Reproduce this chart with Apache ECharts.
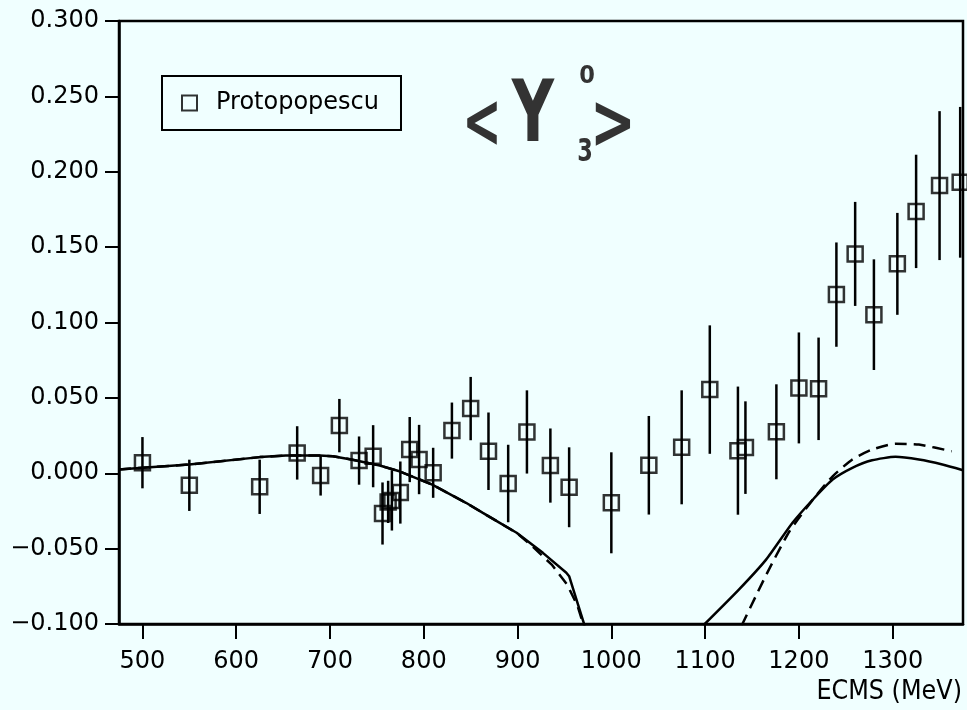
<!DOCTYPE html>
<html>
<head>
<meta charset="utf-8">
<script src="https://cdn.jsdelivr.net/npm/echarts@6/dist/echarts.min.js"></script>
<style>
  html, body { margin: 0; padding: 0; background: #f0ffff; }
  #chart { width: 967px; height: 710px; }
</style>
</head>
<body>
<div id="chart"></div>
<script>
// Measured moments <Y_3^0> versus centre-of-mass energy (MeV)
const ecms = [500, 550, 625, 665, 690, 710, 731, 746, 756, 762, 766, 775, 785, 795, 810, 830, 850, 869, 890, 910, 935, 955,
  1000, 1040, 1075, 1105, 1135, 1143, 1176, 1200, 1221, 1240, 1260, 1280, 1305, 1325, 1350, 1372];
const moment = [0.007, -0.008, -0.009, 0.0135, -0.0015, 0.0316, 0.0084, 0.0113, -0.0267, -0.019, -0.018, -0.0128, 0.0157, 0.0091,
  0.0003, 0.0283, 0.0429, 0.0146, -0.0068, 0.0274, 0.0051, -0.0093, -0.0196, 0.0053, 0.0172, 0.0555, 0.015, 0.017, 0.0275,
  0.0566, 0.056, 0.1185, 0.1455, 0.1052, 0.1389, 0.1737, 0.1908, 0.193];
const momentErr = [0.017, 0.017, 0.018, 0.0177, 0.0133, 0.0177, 0.016, 0.0206, 0.0206, 0.014, 0.02, 0.0206, 0.0216, 0.023,
  0.0166, 0.0186, 0.021, 0.0257, 0.0257, 0.0276, 0.0246, 0.0265, 0.0335, 0.0327, 0.0378, 0.0426, 0.0425, 0.0307, 0.0315,
  0.0368, 0.034, 0.0346, 0.0345, 0.0367, 0.0338, 0.0376, 0.0494, 0.05];

// Model curves (solid and dashed), lower and upper branches
const solidLowX = [475, 508, 550, 625, 653, 689, 703, 724, 753, 774, 809, 845, 863, 881, 899, 927, 952, 955, 970, 972];
const solidLowY = [0.0025, 0.004, 0.0058, 0.0107, 0.0117, 0.0117, 0.0113, 0.009, 0.0051, 0.0013, -0.0075, -0.0196, -0.0263,
  -0.0329, -0.0395, -0.0528, -0.066, -0.0683, -0.0981, -0.102];
const dashLowX = [475, 508, 550, 625, 653, 689, 703, 724, 753, 774, 809, 845, 863, 881, 899, 915, 937, 953, 964, 971];
const dashLowY = [0.0025, 0.004, 0.0058, 0.0107, 0.0117, 0.0117, 0.0113, 0.009, 0.0051, 0.0013, -0.0075, -0.0196, -0.0263,
  -0.0329, -0.0395, -0.048, -0.061, -0.074, -0.088, -0.102];
const solidHighX = [1098, 1136, 1165, 1193, 1215, 1236, 1257, 1278, 1303, 1328, 1353, 1375];
const solidHighY = [-0.101, -0.0772, -0.0573, -0.033, -0.0174, -0.0042, 0.0036, 0.0086, 0.0109, 0.0091, 0.0058, 0.002];
const dashHighX = [1139, 1154, 1168, 1190, 1215, 1236, 1257, 1278, 1303, 1328, 1363];
const dashHighY = [-0.101, -0.0816, -0.0639, -0.0385, -0.0174, -0.002, 0.0091, 0.0157, 0.0195, 0.019, 0.0146];

const xTicks = [500, 600, 700, 800, 900, 1000, 1100, 1200, 1300];
const seriesName = 'Protopopescu';

const FONT = 'DejaVu Sans';
const INK = '#000';
const zip = (xs, ys) => xs.map((x, i) => [x, ys[i]]);

const chart = echarts.init(document.getElementById('chart'), null, { renderer: 'canvas' });

const curveStyle = (dashed) => ({
  color: INK,
  width: 2.5,
  type: dashed ? [12, 7] : 'solid'
});

const option = {
  backgroundColor: '#f0ffff',
  animation: false,
  grid: {
    left: 119, right: 4, top: 21, bottom: 86,
    show: true, borderColor: INK, borderWidth: 2.5, backgroundColor: 'transparent'
  },
  legend: {
    data: [seriesName],
    left: 162, top: 76,
    orient: 'horizontal',
    icon: 'rect',
    itemWidth: 15, itemHeight: 15,
    padding: [15, 22, 15, 19],
    borderColor: INK, borderWidth: 2, borderRadius: 0,
    backgroundColor: 'transparent',
    itemStyle: { color: 'transparent', borderColor: INK, borderWidth: 2 },
    textStyle: { fontFamily: FONT, fontSize: 24, color: INK, padding: [0, 0, 0, 14] },
    selectedMode: false
  },
  xAxis: {
    type: 'value', min: 475, max: 1375,
    axisLine: { show: true, onZero: false, lineStyle: { color: INK, width: 2.5 } },
    axisTick: { show: true, inside: false, length: 15, customValues: xTicks, lineStyle: { color: INK, width: 2 } },
    axisLabel: {
      customValues: xTicks, fontFamily: FONT, fontSize: 24, color: INK, margin: 26,
      formatter: (v) => String(v)
    },
    splitLine: { show: false }
  },
  yAxis: {
    type: 'value', min: -0.1, max: 0.3, interval: 0.05,
    axisLine: { show: true, lineStyle: { color: INK, width: 2.5 } },
    axisTick: { show: true, inside: false, length: 14, lineStyle: { color: INK, width: 2 } },
    axisLabel: {
      fontFamily: FONT, fontSize: 24, color: INK, margin: 20,
      formatter: (v) => v.toFixed(3).replace('-', '\u2212')
    },
    splitLine: { show: false }
  },
  series: [
    { type: 'line', data: zip(solidLowX, solidLowY), showSymbol: false, lineStyle: curveStyle(false), z: 2 },
    { type: 'line', data: zip(dashLowX, dashLowY), showSymbol: false, lineStyle: curveStyle(true), z: 2 },
    { type: 'line', data: zip(solidHighX, solidHighY), showSymbol: false, smooth: 0.2, lineStyle: curveStyle(false), z: 2 },
    { type: 'line', data: zip(dashHighX, dashHighY), showSymbol: false, smooth: 0.2, lineStyle: curveStyle(true), z: 2 },
    {
      type: 'custom',
      data: ecms.map((x, i) => [x, moment[i] - momentErr[i], moment[i] + momentErr[i]]),
      renderItem: (params, api) => {
        const lo = api.coord([api.value(0), api.value(1)]);
        const hi = api.coord([api.value(0), api.value(2)]);
        return {
          type: 'line',
          shape: { x1: lo[0], y1: lo[1], x2: hi[0], y2: hi[1] },
          style: { stroke: INK, lineWidth: 2.5 }
        };
      },
      encode: { x: 0, y: [1, 2] },
      z: 3
    },
    {
      name: seriesName,
      type: 'scatter',
      data: zip(ecms, moment),
      symbol: 'rect',
      symbolSize: 15,
      itemStyle: { color: 'transparent', borderColor: INK, borderWidth: 2.5 },
      z: 4
    }
  ],
  graphic: [
    { type: 'text', x: 482, y: 127, scaleX: 0.62, scaleY: 1.0,
      style: { text: '<', font: 'bold 76px "DejaVu Sans"', fill: '#333', align: 'center', verticalAlign: 'middle' } },
    { type: 'text', x: 533, y: 119, scaleX: 0.68, scaleY: 1.0,
      style: { text: 'Y', font: 'bold 86px "DejaVu Sans"', fill: '#333', align: 'center', verticalAlign: 'middle' } },
    { type: 'text', x: 587, y: 76, scaleX: 0.9, scaleY: 1.0,
      style: { text: '0', font: 'bold 25px "DejaVu Sans"', fill: '#333', align: 'center', verticalAlign: 'middle' } },
    { type: 'text', x: 585, y: 153, scaleX: 0.7, scaleY: 1.0,
      style: { text: '3', font: 'bold 32px "DejaVu Sans"', fill: '#333', align: 'center', verticalAlign: 'middle' } },
    { type: 'text', x: 613, y: 128, scaleX: 0.72, scaleY: 1.0,
      style: { text: '>', font: 'bold 76px "DejaVu Sans"', fill: '#333', align: 'center', verticalAlign: 'middle' } },
    { type: 'text', x: 962, y: 692, scaleX: 0.92, scaleY: 1.0,
      style: { text: 'ECMS (MeV)', font: '26px "DejaVu Sans"', fill: INK, align: 'right', verticalAlign: 'middle' } }
  ]
};

chart.setOption(option);
</script>
</body>
</html>
